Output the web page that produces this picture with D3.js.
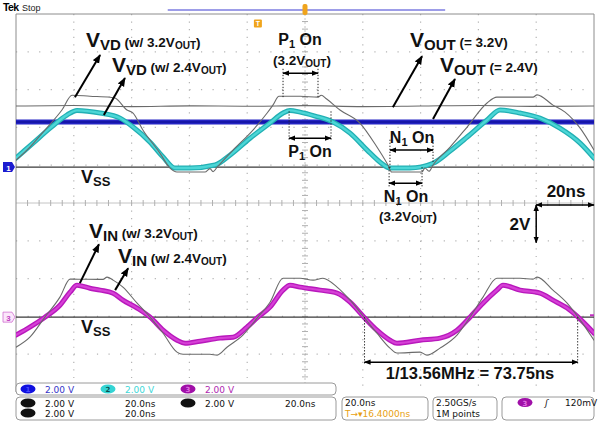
<!DOCTYPE html>
<html>
<head>
<meta charset="utf-8">
<script src="https://cdn.jsdelivr.net/npm/d3@7"></script>
<style>
body { margin: 0; background: #fff; }
svg { display: block; font-family: "Liberation Sans", Arial, sans-serif; }
</style>
</head>
<body>
<svg id="scope" width="600" height="423"></svg>
<script>
// Waveforms: time in ns from the left edge of the
// screen (20 ns/div, 10 div) and volts relative to each channel's ground.

// Ch2: V_VD with 2.4 V output (cyan)
const vvd24Time  = [0, 5.9, 11.8, 17.6, 21.1, 29.1, 36.0, 40.5, 46.4, 50.9, 55.0, 60.2, 68.9, 74.0, 81.0, 87.9, 92.4, 94.8, 98.3, 103.5, 109.7, 115.6, 121.5, 126.0, 129.4, 136.3, 144.3, 150.2, 156.1, 163.0, 167.5, 174.4, 181.3, 188.2, 195.2, 200];
const vvd24Volts = [0.48, 1.27, 2.06, 2.75, 3.0, 2.86, 2.59, 2.12, 1.32, 0.53, -0.05, -0.05, 0.11, 0.63, 1.53, 2.33, 2.86, 3.0, 2.91, 2.7, 2.38, 1.8, 0.9, 0.26, -0.05, -0.05, 0.2, 0.85, 1.59, 2.49, 3.02, 2.86, 2.59, 2.06, 1.27, 0.48];

// Ch2 reference: V_VD with 3.2 V output (gray)
const vvd32Time  = [0, 4.8, 10.0, 15.9, 19.4, 25.6, 32.5, 34.3, 38.4, 40.5, 43.9, 49.8, 53.3, 55.7, 65.4, 67.1, 68.2, 69.6, 75.1, 82.0, 86.9, 88.9, 91.0, 98.3, 104.5, 105.6, 107.5, 112.1, 119.0, 124.9, 128.7, 130.0, 140.5, 141.5, 142.9, 144.3, 150.2, 156.1, 163.0, 166.4, 178.9, 180.3, 185.8, 190.0, 195.2, 200];
const vvd32Volts = [0.37, 1.06, 1.96, 3.02, 3.8, 3.75, 3.7, 3.65, 3.02, 2.86, 1.96, 0.74, -0.05, -0.26, -0.26, -0.08, -0.24, 0.0, 0.9, 1.96, 2.86, 3.28, 3.75, 3.75, 3.7, 3.8, 3.6, 3.02, 2.33, 1.06, 0.11, -0.26, -0.26, -0.05, -0.22, 0.11, 1.06, 2.12, 3.39, 3.7, 3.7, 3.82, 3.28, 2.91, 2.06, 0.9];

// Ch1: V_OUT levels
const vout24Time  = [0, 50, 100, 150, 200];
const vout24Volts = [2.38, 2.38, 2.38, 2.38, 2.38];
const vout32Time  = [0, 20, 40, 60, 80, 100, 120, 140, 160, 180, 200];
const vout32Volts = [3.23, 3.26, 3.2, 3.24, 3.22, 3.25, 3.2, 3.23, 3.26, 3.21, 3.23];

// Ch3: V_IN with 2.4 V output (magenta)
const vin24Time  = [0, 4.8, 10.0, 15.2, 18.7, 21.1, 25.6, 29.1, 33.6, 37.0, 41.9, 46.4, 50.9, 55.7, 58.5, 63.7, 70.6, 75.1, 79.9, 83.7, 87.9, 92.4, 94.8, 98.3, 105.2, 111.1, 115.6, 120.4, 124.9, 129.4, 131.8, 139.8, 146.7, 152.6, 157.1, 161.6, 166.4, 168.5, 174.4, 181.3, 185.8, 190.7, 194.5, 200];
const vin24Volts = [-0.95, -0.53, 0, 0.63, 1.32, 1.69, 1.53, 1.43, 1.27, 0.9, 0.48, 0, -0.69, -1.22, -1.38, -1.27, -1.11, -1.06, -0.53, 0, 0.53, 1.43, 1.69, 1.59, 1.43, 1.27, 0.79, 0, -0.69, -1.22, -1.38, -1.22, -1.11, -0.69, 0, 0.74, 1.43, 1.69, 1.43, 1.27, 0.9, 0.48, 0, -0.85];

// Ch3 reference: V_IN with 3.2 V output (gray)
const vin32Time  = [0, 4.8, 10.0, 15.2, 18.7, 19.7, 30.1, 31.5, 33.6, 37.0, 41.9, 46.4, 50.9, 55.7, 57.8, 67.1, 69.6, 73.0, 78.5, 83.7, 87.9, 92.4, 98.3, 102.8, 106.2, 111.1, 115.6, 120.4, 124.9, 129.4, 131.8, 139.8, 142.2, 146.7, 152.6, 157.1, 161.6, 166.4, 174.4, 178.9, 180.3, 185.8, 190.7, 194.5, 200];
const vin32Volts = [-1.59, -1.06, 0, 1.06, 2.01, 2.01, 2.0, 2.12, 1.96, 1.59, 0.74, 0, -0.85, -1.85, -1.96, -1.96, -2.01, -1.59, -0.95, 0, 0.79, 2.06, 2.06, 1.96, 2.06, 1.59, 0.9, 0, -0.85, -1.64, -1.9, -1.85, -2.01, -1.64, -0.95, 0, 1.06, 2.06, 2.06, 2.01, 2.12, 1.43, 0.74, 0, -1.22];

// Legend / readout texts
const chScaleLabels = ['2.00 V', '2.00 V', '2.00 V'];
const refRows = [['2.00 V', '20.0ns', '2.00 V', '20.0ns'], ['2.00 V', '20.0ns']];

const svg = d3.select('#scope');
const scrLeft = 16, scrRight = 594, scrTop = 14, scrBottom = 392;

// Screen scales: 10 x 20 ns horizontally, 10 div vertically (2 V/div)
const x = d3.scaleLinear().domain([0, 200]).range([scrLeft, scrRight]);
const divY = d3.scaleLinear().domain([-5, 5]).range([scrBottom, scrTop]);
const ch1Pos = 0.95, ch3Pos = -3.02, voltsPerDiv = 2;
const y1 = d3.scaleLinear().domain([(-5 - ch1Pos) * voltsPerDiv, (5 - ch1Pos) * voltsPerDiv]).range([scrBottom, scrTop]);
const y3 = d3.scaleLinear().domain([(-5 - ch3Pos) * voltsPerDiv, (5 - ch3Pos) * voltsPerDiv]).range([scrBottom, scrTop]);

const defs = svg.append('defs');
defs.append('clipPath').attr('id', 'screen')
    .append('rect').attr('x', scrLeft).attr('y', scrTop).attr('width', scrRight - scrLeft).attr('height', scrBottom - scrTop);
defs.append('marker').attr('id', 'head')
    .attr('viewBox', '0 0 10 8').attr('refX', 9).attr('refY', 4)
    .attr('markerWidth', 4.5).attr('markerHeight', 4).attr('markerUnits', 'strokeWidth')
    .attr('orient', 'auto-start-reverse')
    .append('path').attr('d', 'M0,0 L10,4 L0,8 z').attr('fill', '#000');

// ---- graticule ----
const grid = svg.append('g');
for (let i = 1; i < 10; i++) {
    if (i == 5) continue;
    grid.append('line').attr('x1', x(i * 20)).attr('x2', x(i * 20)).attr('y1', scrTop).attr('y2', scrBottom)
        .attr('stroke', '#b4b4b4').attr('stroke-width', 1.2).attr('stroke-dasharray', '1.2 6.36');
    grid.append('line').attr('y1', divY(i - 5)).attr('y2', divY(i - 5)).attr('x1', scrLeft).attr('x2', scrRight)
        .attr('stroke', '#b4b4b4').attr('stroke-width', 1.2).attr('stroke-dasharray', '1.2 10.36');
}
// center axes with minor ticks
grid.append('line').attr('x1', scrLeft).attr('x2', scrRight).attr('y1', divY(0)).attr('y2', divY(0))
    .attr('stroke', '#c4c4c4').attr('stroke-width', 1);
grid.append('line').attr('x1', x(100)).attr('x2', x(100)).attr('y1', scrTop).attr('y2', scrBottom)
    .attr('stroke', '#c4c4c4').attr('stroke-width', 1).attr('stroke-dasharray', '2 2');
for (let k = 1; k < 50; k++) {
    grid.append('line').attr('x1', x(k * 4)).attr('x2', x(k * 4))
        .attr('y1', divY(0) - 3).attr('y2', divY(0) + 3).attr('stroke', '#b0b0b0');
    grid.append('line').attr('y1', divY(-5 + k * 0.2)).attr('y2', divY(-5 + k * 0.2))
        .attr('x1', x(100) - 3).attr('x2', x(100) + 3).attr('stroke', '#b0b0b0');
}
// frame
svg.append('path')
    .attr('d', `M${scrLeft},${scrBottom} V${scrTop} H${scrRight} V${scrBottom}`)
    .attr('fill', 'none').attr('stroke', '#8c8c8c').attr('stroke-width', 1);

// ground lines (V_SS)
[y1(0), y3(0)].forEach(gy => {
    svg.append('line').attr('x1', scrLeft).attr('x2', scrRight).attr('y1', gy).attr('y2', gy)
        .attr('stroke', '#3a3a3a').attr('stroke-width', 1.4);
});

// ---- traces ----
const traces = svg.append('g').attr('clip-path', 'url(#screen)');
function trace(times, volts, yScale, color, width, curve) {
    const line = d3.line()
        .x((d, i) => x(times[i]))
        .y(d => yScale(d))
        .curve(curve || d3.curveMonotoneX);
    return traces.append('path').datum(volts)
        .attr('d', line).attr('fill', 'none')
        .attr('stroke', color).attr('stroke-width', width)
        .attr('stroke-linejoin', 'round').attr('stroke-linecap', 'round');
}
trace(vout24Time, vout24Volts, y1, '#2424c4', 5);
trace(vout24Time, vout24Volts, y1, '#1212a0', 1.5);
trace(vvd24Time, vvd24Volts, y1, '#22b0b4', 5);
trace(vvd24Time, vvd24Volts, y1, '#4cd6d6', 2.4);
trace(vin24Time, vin24Volts, y3, '#b818bc', 5);
trace(vin24Time, vin24Volts, y3, '#d640d6', 2.2);
trace(vout32Time, vout32Volts, y1, '#6a6a6a', 1.1);
trace(vvd32Time, vvd32Volts, y1, '#6a6a6a', 1.1);
trace(vin32Time, vin32Volts, y3, '#6a6a6a', 1.1);

// ---- annotations ----
const ann = svg.append('g');
function arrow(x1, yy1, x2, yy2, w, both) {
    const l = ann.append('line').attr('x1', x1).attr('y1', yy1).attr('x2', x2).attr('y2', yy2)
        .attr('stroke', '#000').attr('stroke-width', w).attr('marker-end', 'url(#head)');
    if (both) l.attr('marker-start', 'url(#head)');
}
function dotted(t, yTop, yBot) {
    ann.append('line').attr('x1', x(t)).attr('x2', x(t)).attr('y1', yTop).attr('y2', yBot)
        .attr('stroke', '#222').attr('stroke-width', 1).attr('stroke-dasharray', '1.3 1.7');
}
function richLabel(px, py, parts, anchor) {
    const t = ann.append('text').attr('x', px).attr('y', py)
        .attr('font-weight', 'bold').attr('fill', '#111').attr('text-anchor', anchor || 'start');
    let prev = 0;
    parts.forEach(([s, size, shift]) => {
        t.append('tspan').attr('font-size', size).attr('dy', shift - prev).text(s);
        prev = shift;
    });
}

// pointer arrows (time ns, volts)
arrow(x(20.4), y1(3.70), x(29.1), y1(5.93), 2);
arrow(x(30.4), y1(2.75), x(37.7), y1(4.71), 2);
arrow(x(130.4), y1(3.17), x(140.5), y1(5.87), 2);
arrow(x(144.3), y1(2.54), x(151.9), y1(4.66), 2);
arrow(x(22.1), y3(1.80), x(28.7), y3(3.86), 2);
arrow(x(34.3), y3(1.43), x(38.8), y3(2.59), 2);

// on-time markers
dotted(92.4, y1(5.2), y1(3.65)); dotted(104.5, y1(5.2), y1(3.65));
arrow(x(92.4), y1(4.97), x(104.5), y1(4.97), 1.5, true);
dotted(94.5, y1(2.95), y1(1.4)); dotted(109.0, y1(2.95), y1(1.4));
arrow(x(94.5), y1(1.53), x(109.0), y1(1.53), 1.5, true);
dotted(129.4, y1(1.45), y1(-0.05)); dotted(144.3, y1(1.45), y1(0.2));
arrow(x(129.4), y1(0.90), x(144.3), y1(0.90), 1.5, true);
dotted(129.1, y1(0), y1(-1.1)); dotted(140.5, y1(0), y1(-1.1));
arrow(x(129.1), y1(-0.85), x(140.5), y1(-0.85), 1.5, true);
// period marker
dotted(120.6, y3(0), y3(-2.45)); dotted(194.35, y3(0), y3(-2.45));
arrow(x(120.6), y3(-2.38), x(194.35), y3(-2.38), 1.5, true);
// scale markers
arrow(x(180), y1(-2), x(200), y1(-2), 1.5, true);
arrow(x(180), y1(-2), x(180), y1(-4), 1.5, true);

// labels
richLabel(86, 47, [['V', 21, 0], ['VD', 15, 3], [' (w/ 3.2V', 13.5, 0], ['OUT', 10, 2], [')', 13.5, 0]]);
richLabel(112, 72, [['V', 21, 0], ['VD', 15, 3], ['  (w/ 2.4V', 13.5, 0], ['OUT', 10, 2], [')', 13.5, 0]]);
richLabel(410, 47, [['V', 21, 0], ['OUT', 15, 3], [' (= 3.2V)', 13.5, 0]]);
richLabel(440, 72, [['V', 21, 0], ['OUT', 15, 3], ['  (= 2.4V)', 13.5, 0]]);
richLabel(89, 238, [['V', 21, 0], ['IN', 15, 3], [' (w/ 3.2V', 13.5, 0], ['OUT', 10, 2], [')', 13.5, 0]]);
richLabel(118, 263, [['V', 21, 0], ['IN', 15, 3], ['  (w/ 2.4V', 13.5, 0], ['OUT', 10, 2], [')', 13.5, 0]]);
richLabel(81, 183, [['V', 18, 0], ['SS', 13, 3]]);
richLabel(81, 333, [['V', 18, 0], ['SS', 13, 3]]);
richLabel(300, 45, [['P', 16, 0], ['1', 11, 3], [' On', 16, 0]], 'middle');
richLabel(302, 65, [['(3.2V', 13.5, 0], ['OUT', 10, 2], [')', 13.5, 0]], 'middle');
richLabel(310, 157, [['P', 16, 0], ['1', 11, 3], [' On', 16, 0]], 'middle');
richLabel(412, 143, [['N', 16, 0], ['1', 11, 3], [' On', 16, 0]], 'middle');
richLabel(406, 202, [['N', 16, 0], ['1', 11, 3], [' On', 16, 0]], 'middle');
richLabel(408, 221, [['(3.2V', 13.5, 0], ['OUT', 10, 2], [')', 13.5, 0]], 'middle');
richLabel(566, 197, [['20ns', 17, 0]], 'middle');
richLabel(520, 230, [['2V', 17, 0]], 'middle');
richLabel(470, 379, [['1/13.56MHz = 73.75ns', 16.5, 0]], 'middle');

// ---- scope chrome ----
svg.append('text').attr('x', 3).attr('y', 11).attr('font-size', 10.5).attr('font-weight', 'bold')
    .attr('letter-spacing', -0.6).text('Tek');
svg.append('text').attr('x', 22).attr('y', 11).attr('font-size', 9).attr('fill', '#222').text('Stop');
svg.append('line').attr('x1', x(52.5)).attr('x2', x(148.5)).attr('y1', 10).attr('y2', 10)
    .attr('stroke', '#7c7ce0').attr('stroke-width', 1.5);
svg.append('rect').attr('x', x(100) - 2.5).attr('y', 4).attr('width', 5).attr('height', 11).attr('rx', 2)
    .attr('fill', '#f0a41c');
svg.append('rect').attr('x', x(83.7) - 4).attr('y', 19.5).attr('width', 8).attr('height', 8).attr('rx', 1)
    .attr('fill', '#f0a41c');
svg.append('text').attr('x', x(83.7)).attr('y', 26).attr('font-size', 7).attr('font-weight', 'bold')
    .attr('text-anchor', 'middle').attr('fill', '#fff').text('T');

// channel ground markers
svg.append('path').attr('d', `M3,${y1(0) - 5} H12 L15,${y1(0)} L12,${y1(0) + 5} H3 Z`).attr('fill', '#1c1cd0');
svg.append('text').attr('x', 8.5).attr('y', y1(0) + 3.5).attr('font-size', 8).attr('font-weight', 'bold')
    .attr('fill', '#fff').attr('text-anchor', 'middle').text('1');
svg.append('path').attr('d', `M3,${y3(0) - 5} H12 L15,${y3(0)} L12,${y3(0) + 5} H3 Z`)
    .attr('fill', '#fbe6fb').attr('stroke', '#d070d0').attr('stroke-width', 0.8);
svg.append('text').attr('x', 8.5).attr('y', y3(0) + 3.5).attr('font-size', 8).attr('font-weight', 'bold')
    .attr('fill', '#c040c0').attr('text-anchor', 'middle').text('3');
// trigger level tick on the right edge
svg.append('line').attr('x1', scrRight - 4).attr('x2', scrRight).attr('y1', y3(0.1)).attr('y2', y3(0.1))
    .attr('stroke', '#c030c0').attr('stroke-width', 2);

// ---- readout boxes ----
const rd = svg.append('g').attr('font-family', '"DejaVu Sans", sans-serif').attr('font-size', 9);
function box(bx, by, bw, bh) {
    rd.append('rect').attr('x', bx).attr('y', by).attr('width', bw).attr('height', bh).attr('rx', 4)
        .attr('fill', '#fff').attr('stroke', '#9a9a9a').attr('stroke-width', 1);
}
function pill(cx, cy, fill, label, labelColor) {
    rd.append('ellipse').attr('cx', cx).attr('cy', cy).attr('rx', 7.5).attr('ry', 4.6).attr('fill', fill);
    if (label) rd.append('text').attr('x', cx).attr('y', cy + 3).attr('font-size', 7).attr('font-weight', 'bold')
        .attr('text-anchor', 'middle').attr('fill', labelColor).text(label);
}
box(16, 383, 320, 12);
const chColors = [['#1010e0', '#3434c8', '1', '#4a4aff'], ['#34d4d4', '#40d8d8', '2', '#0a5050'], ['#a010a8', '#b028b0', '3', '#e070e0']];
chColors.forEach((c, i) => {
    pill(28 + i * 80, 389, c[0], c[2], c[3]);
    rd.append('text').attr('x', 45 + i * 80).attr('y', 392.5).attr('fill', c[1]).text(chScaleLabels[i]);
});
box(16, 397, 320, 23);
refRows.forEach((row, r) => {
    const ry = 403.5 + r * 10;
    for (let j = 0; j < row.length; j += 2) {
        pill(28 + j * 80, ry - 0.5, '#111');
        rd.append('text').attr('x', 45 + j * 80).attr('y', ry + 3).attr('fill', '#111').text(row[j]);
        rd.append('text').attr('x', 125 + j * 80).attr('y', ry + 3).attr('fill', '#111').text(row[j + 1]);
    }
});
box(342, 397, 86, 23);
rd.append('text').attr('x', 345).attr('y', 406).attr('fill', '#111').text('20.0ns');
rd.append('text').attr('x', 345).attr('y', 416.5).attr('fill', '#e8a010').text('T\u2192\u25BE16.4000ns');
box(433, 397, 64, 23);
rd.append('text').attr('x', 436).attr('y', 406).attr('fill', '#111').text('2.50GS/s');
rd.append('text').attr('x', 436).attr('y', 416.5).attr('fill', '#111').text('1M points');
box(502, 397, 92, 23);
pill(525, 402.5, '#a010a8', '3', '#e070e0');
rd.append('text').attr('x', 545).attr('y', 406).attr('fill', '#111').attr('font-style', 'italic').text('\u0283');
rd.append('text').attr('x', 565).attr('y', 406).attr('fill', '#111').text('120mV');
</script>
</body>
</html>
